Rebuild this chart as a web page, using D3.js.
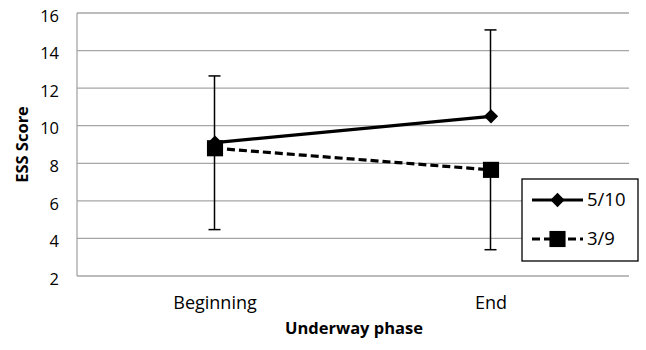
<!DOCTYPE html>
<html>
<head>
<meta charset="utf-8">
<script src="https://cdn.jsdelivr.net/npm/d3@7"></script>
<style>
  body { margin: 0; background: #fff; }
  text { font-family: "Open Sans", sans-serif; fill: #000; }
</style>
</head>
<body>
<script>
// chart data
var phases = ["Beginning", "End"];
var seriesNames = ["5/10", "3/9"];
var values510 = [9.1, 10.5];
var values39 = [8.8, 7.65];
// 5/10 shows only upper error bars, 3/9 only lower ones
var errPlus510 = [3.55, 4.6];
var errMinus39 = [4.33, 4.25];
var yTicks = [2, 4, 6, 8, 10, 12, 14, 16];

var width = 646, height = 350;
var margin = {top: 13, right: 17, bottom: 74, left: 77};
var w = width - margin.left - margin.right;
var h = height - margin.top - margin.bottom;

var svg = d3.select("body").append("svg")
    .attr("width", width)
    .attr("height", height);

var g = svg.append("g")
    .attr("transform", "translate(" + margin.left + "," + margin.top + ")");

// scales
var x = d3.scaleBand().domain(phases).range([0, w]).padding(0);
var y = d3.scaleLinear().domain([2, 16]).range([h, 0]);
var cx = function(d) { return x(d) + x.bandwidth() / 2; };

// gridlines
g.selectAll(".grid")
    .data(yTicks)
    .enter()
    .append("line")
        .attr("x1", 0)
        .attr("x2", w)
        .attr("y1", function(d) { return y(d); })
        .attr("y2", function(d) { return y(d); })
        .attr("stroke", "#a6a6a6")
        .attr("stroke-width", 1.3);

// left axis line
g.append("line")
    .attr("x1", 0).attr("x2", 0)
    .attr("y1", 0).attr("y2", h)
    .attr("stroke", "#a6a6a6")
    .attr("stroke-width", 1.3);

// y tick labels
var yAxis = d3.axisLeft(y).tickValues(yTicks).tickSize(0).tickPadding(18);
var yObj = g.append("g").call(yAxis);
yObj.select(".domain").remove();
yObj.selectAll("text")
    .attr("dy", "0.5em")
    .style("font-size", "16.5px")
    .style("font-family", "'Open Sans', sans-serif")
    .attr("fill", "#000");

// x tick labels
var xAxis = d3.axisBottom(x).tickSize(0).tickPadding(20);
var xObj = g.append("g")
    .attr("transform", "translate(0," + h + ")")
    .call(xAxis);
xObj.select(".domain").remove();
xObj.selectAll("text")
    .style("font-size", "18px")
    .style("font-family", "'Open Sans', sans-serif")
    .attr("fill", "#000");

// axis titles
svg.append("text")
    .attr("x", margin.left + w / 2 + 1)
    .attr("y", 334)
    .attr("text-anchor", "middle")
    .style("font-size", "16.5px")
    .style("font-weight", "bold")
    .text("Underway phase");

svg.append("text")
    .attr("transform", "translate(28," + (margin.top + h / 2) + ") rotate(-90)")
    .attr("text-anchor", "middle")
    .style("font-size", "16.5px")
    .style("font-weight", "bold")
    .text("ESS Score");

// error bars
function errorBar(xv, y0, y1) {
    g.append("line")
        .attr("x1", xv).attr("x2", xv)
        .attr("y1", y0).attr("y2", y1)
        .attr("stroke", "#000").attr("stroke-width", 1.5);
    g.append("line")
        .attr("x1", xv - 6).attr("x2", xv + 6)
        .attr("y1", y1).attr("y2", y1)
        .attr("stroke", "#000").attr("stroke-width", 1.5);
}
phases.forEach(function(p, i) {
    errorBar(cx(p) - 0.5, y(values510[i]), y(values510[i] + errPlus510[i]));
    errorBar(cx(p) - 0.5, y(values39[i]), y(values39[i] - errMinus39[i]));
});

var line = d3.line()
    .x(function(d, i) { return cx(phases[i]); })
    .y(function(d) { return y(d); });

// 5/10 solid line with diamonds
g.append("path")
    .datum(values510)
    .attr("d", line)
    .attr("fill", "none")
    .attr("stroke", "#000")
    .attr("stroke-width", 3.2);

var diamond = d3.symbol().type(d3.symbolDiamond2).size(130);
var square = d3.symbol().type(d3.symbolSquare).size(260);

g.selectAll(".dia")
    .data(values510)
    .enter()
    .append("path")
        .attr("d", diamond)
        .attr("transform", function(d, i) { return "translate(" + cx(phases[i]) + "," + y(d) + ")"; })
        .attr("fill", "#000");

// 3/9 dashed line with squares
g.append("path")
    .datum(values39)
    .attr("d", line)
    .attr("fill", "none")
    .attr("stroke", "#000")
    .attr("stroke-width", 3.2)
    .attr("stroke-dasharray", "8,4");

g.selectAll(".sq")
    .data(values39)
    .enter()
    .append("path")
        .attr("d", square)
        .attr("transform", function(d, i) { return "translate(" + cx(phases[i]) + "," + y(d) + ")"; })
        .attr("fill", "#000");

// legend
var legend = svg.append("g")
    .attr("transform", "translate(522,179)");

legend.append("rect")
    .attr("width", 116)
    .attr("height", 82)
    .attr("fill", "#fff")
    .attr("stroke", "#000")
    .attr("stroke-width", 1.3);

seriesNames.forEach(function(name, i) {
    var ly = 21 + i * 39;
    legend.append("line")
        .attr("x1", 10).attr("x2", 61)
        .attr("y1", ly).attr("y2", ly)
        .attr("stroke", "#000")
        .attr("stroke-width", 3.2)
        .attr("stroke-dasharray", i == 0 ? null : "8,4");
    legend.append("path")
        .attr("d", i == 0 ? diamond : square)
        .attr("transform", "translate(35.5," + ly + ")")
        .attr("fill", "#000");
    legend.append("text")
        .attr("x", 65)
        .attr("y", ly + 6)
        .style("font-size", "18.5px")
        .text(name);
});
</script>
</body>
</html>
